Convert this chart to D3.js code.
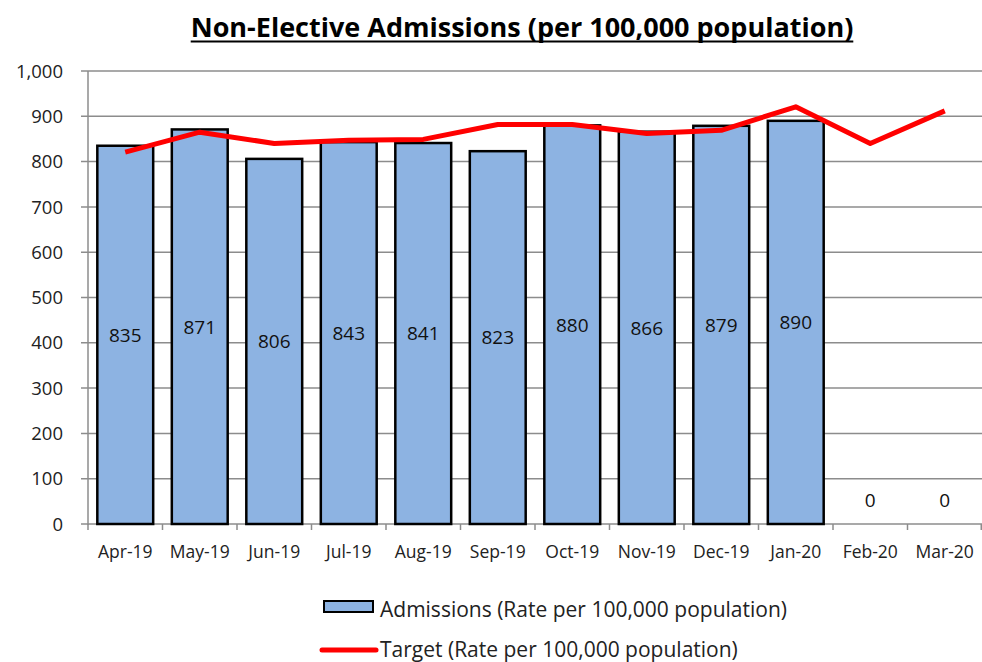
<!DOCTYPE html>
<html><head><meta charset="utf-8">
<script src="https://cdn.jsdelivr.net/npm/d3@7"></script>
<style>body{margin:0;background:#fff}svg{display:block}text{font-family:"Open Sans",Lato,sans-serif}</style>
</head><body><svg id="c" width="982" height="662"></svg>
<script>
const categories = ["Apr-19","May-19","Jun-19","Jul-19","Aug-19","Sep-19","Oct-19","Nov-19","Dec-19","Jan-20","Feb-20","Mar-20"];
const admissions = [835,871,806,843,841,823,880,866,879,890,0,0];
const target = [821,865,840,847,849,882,882,862,869,921,840,912];
const yTicks = [0,100,200,300,400,500,600,700,800,900,1000];
const titleText = "Non-Elective Admissions  (per 100,000 population)";
const legendLabels = ["Admissions (Rate per 100,000 population)","Target (Rate per 100,000 population)"];

const svg = d3.select("#c");
const m = {l:88, r:982, t:71, b:524};
const x = d3.scaleBand().domain(categories).range([m.l, m.r]).paddingInner(0.25).paddingOuter(0.125);
const xb = d3.scaleBand().domain(categories).range([m.l, m.r]);
const y = d3.scaleLinear().domain([0,1000]).range([m.b, m.t]);

// gridlines
svg.append("g").selectAll("line").data(yTicks).join("line")
  .attr("x1", m.l-7).attr("x2", m.r).attr("y1", d=>y(d)).attr("y2", d=>y(d))
  .attr("stroke","#8c8c8c").attr("stroke-width",1.5);
// y axis line
svg.append("line").attr("x1",m.l).attr("x2",m.l).attr("y1",m.t).attr("y2",m.b+1)
  .attr("stroke","#8c8c8c").attr("stroke-width",1.5);
// x tick marks at boundaries
const bounds = categories.map(c=>xb(c)).concat([m.r-0.75]);
svg.append("g").selectAll("line").data(bounds).join("line")
  .attr("x1",d=>d).attr("x2",d=>d).attr("y1",m.b).attr("y2",m.b+6)
  .attr("stroke","#8c8c8c").attr("stroke-width",1.5);

// y labels
svg.append("g").selectAll("text").data(yTicks).join("text")
  .attr("x", 63).attr("y", d=>y(d)).attr("dy","0.36em").attr("text-anchor","end")
  .attr("font-size",18.5).attr("fill","#222").text(d3.format(","));
// x labels
svg.append("g").selectAll("text").data(categories).join("text")
  .attr("x", d=>xb(d)+xb.bandwidth()/2).attr("y", 557.5).attr("text-anchor","middle")
  .attr("font-size",17.5).attr("fill","#222").text(d=>d);

// bars
svg.append("g").selectAll("rect").data(categories.map((c,i)=>({c,v:admissions[i]})).filter(d=>d.v>0)).join("rect")
  .attr("x",d=>x(d.c)).attr("width",x.bandwidth()).attr("y",d=>y(d.v)).attr("height",d=>y(0)-y(d.v))
  .attr("fill","#8db3e2").attr("stroke","#000").attr("stroke-width",2.5);

// line
svg.append("path").datum(target)
  .attr("d", d3.line().x((d,i)=>xb(categories[i])+xb.bandwidth()/2).y(d=>y(d)))
  .attr("fill","none").attr("stroke","#ff0000").attr("stroke-width",5).attr("stroke-linejoin","round");

// bar labels
svg.append("g").selectAll("text").data(categories.map((c,i)=>({c,v:admissions[i]}))).join("text")
  .attr("x",d=>xb(d.c)+xb.bandwidth()/2)
  .attr("y",d=>d.v>0 ? y(d.v/2) : y(0)-24)
  .attr("dy","0.36em").attr("text-anchor","middle").attr("font-size",19).attr("fill","#111")
  .text(d=>d.v);

// title
const t = svg.append("text").attr("x",522).attr("y",37).attr("text-anchor","middle")
  .attr("font-size",27).attr("font-weight","bold").attr("fill","#000").text(titleText);
const bb = t.node().getBBox();
svg.append("line").attr("x1",bb.x).attr("x2",bb.x+bb.width).attr("y1",41.5).attr("y2",41.5)
  .attr("stroke","#000").attr("stroke-width",2);

// legend
svg.append("rect").attr("x",324).attr("y",601).attr("width",49).attr("height",11)
  .attr("fill","#8db3e2").attr("stroke","#000").attr("stroke-width",2);
svg.append("text").attr("x",380).attr("y",616.5).attr("font-size",21).attr("fill","#222").text(legendLabels[0]);
svg.append("line").attr("x1",322).attr("x2",376).attr("y1",650).attr("y2",650)
  .attr("stroke","#ff0000").attr("stroke-width",5).attr("stroke-linecap","round");
svg.append("text").attr("x",380).attr("y",657).attr("font-size",21).attr("fill","#222").text(legendLabels[1]);
</script></body></html>
